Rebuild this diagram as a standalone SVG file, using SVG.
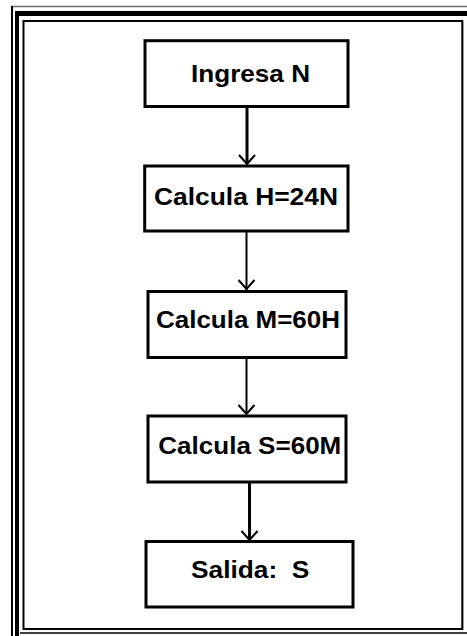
<svg xmlns="http://www.w3.org/2000/svg" width="467" height="636" viewBox="0 0 467 636">
  <defs>
    <style>
      .box { fill: #ffffff; stroke: #000000; stroke-width: 3; }
      .label { font-family: "Liberation Sans", Arial, sans-serif; font-weight: bold; font-size: 24px; fill: #000000; text-anchor: start; }
      .edge { fill: none; stroke: #000000; stroke-width: 2; }
      .edge-thick { fill: none; stroke: #000000; stroke-width: 3; }
      .head { fill: none; stroke: #000000; stroke-width: 2; stroke-linejoin: miter; }
    </style>
  </defs>

  <rect x="0" y="0" width="467" height="636" fill="#ffffff"/>

  <!-- page border: thin + thick rules on top/left, single frame inside, double rule at bottom -->
  <g id="page-border" fill="none">
    <line x1="11" y1="6.5" x2="467" y2="6.5" stroke="#6e6e6e" stroke-width="1.5"/>
    <line x1="12" y1="6" x2="12" y2="636" stroke="#000" stroke-width="2"/>
    <line x1="15" y1="13.5" x2="467" y2="13.5" stroke="#000" stroke-width="5"/>
    <line x1="17" y1="11" x2="17" y2="636" stroke="#000" stroke-width="4"/>
    <rect x="23.5" y="21" width="438.8" height="608" stroke="#000" stroke-width="2"/>
    <line x1="463.5" y1="22" x2="463.5" y2="630" stroke="#9a9a9a" stroke-width="1"/>
    <line x1="20" y1="633" x2="467" y2="633" stroke="#000" stroke-width="1.5"/>
  </g>

  <!-- connectors -->
  <g id="connectors">
    <line class="edge-thick" x1="247" y1="107" x2="247" y2="164"/>
    <polyline class="head" points="239,155 247,164 255,155"/>

    <line class="edge" x1="246.5" y1="232" x2="246.5" y2="290"/>
    <polyline class="head" points="238.5,280 246.5,289 254.5,280"/>

    <line class="edge" x1="246.5" y1="358" x2="246.5" y2="414"/>
    <polyline class="head" points="238.5,405 246.5,414 254.5,405"/>

    <line class="edge-thick" x1="249.5" y1="483" x2="249.5" y2="540"/>
    <polyline class="head" points="241.5,531 249.5,540 257.5,531"/>
  </g>

  <g id="node-ingresa">
    <rect class="box" x="145" y="40.7" width="203" height="65.8"/>
    <text class="label" x="191" y="82" textLength="119" lengthAdjust="spacingAndGlyphs">Ingresa N</text>
  </g>

  <g id="node-horas">
    <rect class="box" x="144.7" y="166" width="203.3" height="65"/>
    <text class="label" x="154" y="204.5" textLength="184" lengthAdjust="spacingAndGlyphs">Calcula H=24N</text>
  </g>

  <g id="node-minutos">
    <rect class="box" x="148" y="291.5" width="198" height="66"/>
    <text class="label" x="156" y="328.3" textLength="184" lengthAdjust="spacingAndGlyphs">Calcula M=60H</text>
  </g>

  <g id="node-segundos">
    <rect class="box" x="148" y="416" width="198" height="66"/>
    <text class="label" x="158.3" y="454" textLength="183" lengthAdjust="spacingAndGlyphs">Calcula S=60M</text>
  </g>

  <g id="node-salida">
    <rect class="box" x="146" y="541.5" width="207" height="65.5"/>
    <text class="label" x="191" y="578.3" textLength="118.3" lengthAdjust="spacingAndGlyphs" xml:space="preserve">Salida:  S</text>
  </g>
</svg>
